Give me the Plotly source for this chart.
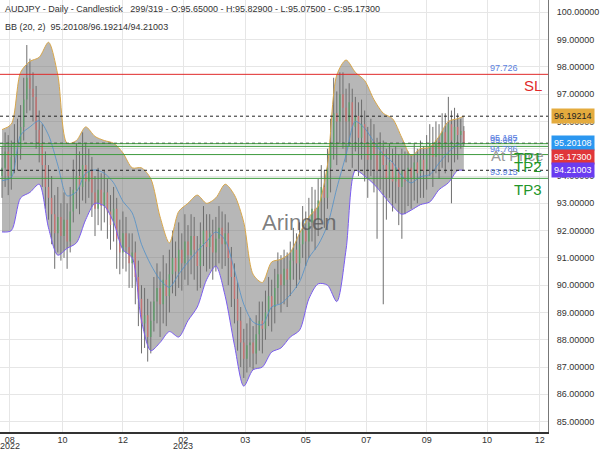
import plotly.graph_objects as go

TITLE_1 = "AUDJPY - Daily - Candlestick\u00a0\u00a0\u00a0299/319 - O:95.65000 - H:95.82900 - L:95.07500 - C:95.17300"
TITLE_2 = "BB (20, 2)\u00a0\u00a095.20108/96.19214/94.21003"
WATERMARK = "Arincen"

# bar numbers (one candle per two trading days)
BARS = list(range(0, 300, 2))

OPEN = [
    94.0, 94.3, 94.9, 94.0, 94.7, 95.2, 95.0, 95.8, 96.8, 97.6,
    97.2, 96.9, 95.7, 95.2, 94.4, 93.6, 93.2, 92.6, 91.9, 92.5,
    91.8, 92.4, 91.6, 92.7, 93.5, 94.0, 93.6, 94.4, 93.8, 94.2,
    93.4, 92.8, 93.5, 92.9, 93.4, 92.7, 92.2, 92.8, 91.7, 91.2,
    91.9, 91.4, 90.8, 91.2, 90.3, 89.5, 88.6, 88.9, 88.1, 88.7,
    89.4, 89.9, 89.3, 90.2, 89.6, 90.4, 91.0, 90.5, 91.3, 90.8,
    91.6, 91.1, 91.8, 91.3, 90.7, 91.5, 92.0, 91.4, 91.9, 91.2,
    91.7, 92.1, 91.5, 91.9, 91.0, 90.3, 89.5, 88.7, 87.9, 87.3,
    87.8, 87.9, 87.5, 88.2, 88.7, 88.4, 89.0, 89.6, 89.2, 89.9,
    90.4, 90.0, 90.6, 90.2, 90.9, 91.3, 90.8, 91.5, 92.0, 91.6,
    92.3, 92.8, 92.4, 93.1, 93.6, 93.2, 94.3, 95.2, 96.3, 96.0,
    97.0, 96.5, 96.0, 96.7, 95.8, 96.2, 95.4, 95.9, 95.2, 94.6,
    95.3, 94.8, 94.2, 94.9, 94.4, 93.9, 94.5, 93.8, 94.3, 93.6,
    94.2, 93.8, 94.3, 93.9, 94.5, 94.1, 94.6, 94.2, 94.8, 95.2,
    94.7, 95.3, 95.0, 95.6, 95.2, 95.9, 95.3, 95.8, 95.5, 95.65,
]
HIGH = [
    95.1, 95.6, 95.5, 95.3, 95.9, 96.1, 96.6, 97.6, 98.8, 98.3,
    97.8, 97.3, 96.4, 95.9, 94.9, 94.4, 94.0, 93.3, 93.6, 93.0,
    93.4, 93.0, 93.6, 94.6, 95.2, 94.9, 95.6, 95.2, 95.0, 94.7,
    94.0, 94.3, 94.1, 94.2, 93.9, 93.3, 93.6, 93.2, 92.4, 92.7,
    92.5, 91.9, 91.9, 91.6, 90.9, 90.0, 89.9, 89.5, 89.4, 90.3,
    90.8, 90.5, 91.1, 90.8, 91.3, 92.0, 91.6, 92.3, 91.9, 92.6,
    92.2, 92.6, 92.5, 91.8, 92.3, 92.9, 92.6, 92.6, 92.4, 92.5,
    92.9, 92.7, 92.6, 92.3, 91.4, 90.8, 90.1, 89.2, 88.4, 88.6,
    88.8, 88.5, 88.9, 89.4, 89.4, 89.8, 90.3, 90.2, 90.6, 91.2,
    91.1, 91.3, 91.2, 91.6, 92.1, 91.9, 92.3, 92.9, 92.7, 93.2,
    93.6, 93.5, 93.9, 94.4, 94.2, 95.0, 96.1, 97.6, 97.1, 97.8,
    97.8, 97.2, 97.4, 97.2, 96.9, 96.7, 96.8, 96.4, 95.8, 96.1,
    95.9, 95.4, 95.6, 95.3, 95.0, 95.2, 95.0, 95.1, 94.8, 95.0,
    94.9, 94.9, 94.8, 95.2, 95.0, 95.3, 95.1, 95.5, 95.9, 95.8,
    96.0, 95.9, 96.3, 96.3, 96.9, 96.4, 96.5, 96.3, 96.1, 95.829,
]
LOW = [
    93.2, 93.6, 93.3, 93.5, 94.1, 94.2, 94.6, 95.3, 96.3, 96.4,
    96.0, 95.0, 94.5, 93.6, 92.8, 92.4, 91.5, 90.6, 91.2, 90.9,
    91.0, 90.6, 91.2, 92.3, 92.8, 92.6, 93.1, 93.0, 93.2, 92.5,
    91.8, 92.2, 92.0, 92.3, 91.7, 91.3, 91.6, 90.6, 90.4, 90.6,
    90.5, 89.9, 89.9, 89.3, 88.5, 87.5, 87.7, 87.2, 87.5, 88.3,
    88.6, 88.1, 88.6, 88.5, 89.0, 89.7, 89.6, 89.9, 89.8, 90.2,
    90.0, 90.4, 90.2, 89.8, 89.9, 90.7, 90.5, 90.6, 90.2, 90.5,
    90.8, 90.6, 90.7, 90.0, 89.2, 88.6, 87.6, 87.0, 86.6, 86.8,
    87.0, 86.9, 87.1, 87.6, 87.5, 88.0, 88.5, 88.3, 88.6, 89.3,
    89.0, 89.3, 89.2, 89.6, 90.2, 89.9, 90.2, 91.0, 90.7, 91.0,
    91.6, 91.3, 91.8, 92.4, 92.1, 92.8, 93.4, 94.6, 94.4, 95.2,
    95.0, 94.5, 95.1, 94.3, 94.9, 94.0, 94.6, 93.8, 93.2, 94.0,
    93.4, 91.7, 93.5, 89.3, 92.4, 93.2, 92.7, 93.0, 92.2, 91.7,
    92.6, 92.9, 92.8, 93.1, 93.0, 93.2, 93.2, 93.5, 94.0, 93.6,
    94.1, 93.9, 94.3, 94.1, 94.5, 93.0, 94.5, 94.6, 95.0, 95.075,
]
CLOSE = [
    94.3, 94.9, 94.0, 94.7, 95.2, 95.0, 95.8, 96.8, 97.6, 97.2,
    96.9, 95.7, 95.2, 94.4, 93.6, 93.2, 92.6, 91.9, 92.5, 91.8,
    92.4, 91.6, 92.7, 93.5, 94.0, 93.6, 94.4, 93.8, 94.2, 93.4,
    92.8, 93.5, 92.9, 93.4, 92.7, 92.2, 92.8, 91.7, 91.2, 91.9,
    91.4, 90.8, 91.2, 90.3, 89.5, 88.6, 88.9, 88.1, 88.7, 89.4,
    89.9, 89.3, 90.2, 89.6, 90.4, 91.0, 90.5, 91.3, 90.8, 91.6,
    91.1, 91.8, 91.3, 90.7, 91.5, 92.0, 91.4, 91.9, 91.2, 91.7,
    92.1, 91.5, 91.9, 91.0, 90.3, 89.5, 88.7, 87.9, 87.3, 87.8,
    87.9, 87.5, 88.2, 88.7, 88.4, 89.0, 89.6, 89.2, 89.9, 90.4,
    90.0, 90.6, 90.2, 90.9, 91.3, 90.8, 91.5, 92.0, 91.6, 92.3,
    92.8, 92.4, 93.1, 93.6, 93.2, 94.3, 95.2, 96.3, 96.0, 97.0,
    96.5, 96.0, 96.7, 95.8, 96.2, 95.4, 95.9, 95.2, 94.6, 95.3,
    94.8, 94.2, 94.9, 94.4, 93.9, 94.5, 93.8, 94.3, 93.6, 94.2,
    93.8, 94.3, 93.9, 94.5, 94.1, 94.6, 94.2, 94.8, 95.2, 94.7,
    95.3, 95.0, 95.6, 95.2, 95.9, 95.3, 95.8, 95.5, 95.65, 95.173,
]

# Bollinger band values read at every 6th bar
BAND_BARS = list(range(0, 295, 6)) + [298]
BB_UPPER = [
    95.7, 95.9, 97.8, 98.2, 98.35, 98.9, 97.7, 95.2, 95.3, 95.8,
    95.45, 95.3, 95.2, 94.85, 94.3, 94.3, 93.9, 92.5, 91.55, 92.7,
    93.0, 93.3, 93.0, 93.2, 93.7, 93.3, 92.3, 90.4, 90.1, 90.85,
    90.95, 91.2, 91.9, 92.5, 92.9, 94.4, 97.7, 98.25, 97.8, 97.5,
    96.8, 96.3, 96.1, 95.4, 94.75, 95.0, 95.05, 95.45, 96.0, 96.1,
    96.19214,
]
BB_LOWER = [
    91.95, 92.0, 93.2, 93.4, 93.7, 92.1, 91.1, 91.35, 91.55, 92.4,
    93.0, 92.9, 92.3, 91.3, 91.0, 88.7, 87.6, 87.9, 88.3, 88.1,
    88.7, 89.2, 90.2, 90.7, 89.6, 87.8, 86.3, 86.9, 87.0, 87.55,
    87.7, 88.1, 88.35, 89.5, 90.05, 90.0, 89.4, 91.3, 94.2, 94.0,
    93.7, 93.3, 92.9, 92.6, 92.75, 92.95, 93.05, 93.5, 93.75, 94.2,
    94.21003,
]
BB_MID = [(u + l) / 2 for u, l in zip(BB_UPPER, BB_LOWER)]

TICK_BARS = [5, 39, 78, 117, 157, 196, 235, 274, 313, 347]
TICK_TEXT = ["08", "10", "12", "02", "03", "05", "07", "09", "10", "12"]
YEAR_BARS = [5, 117]
YEAR_TEXT = ["2022", "2023"]

# levels
SL_LEVEL = 97.726
AT_PRICE_LEVEL = 95.185
TP_LEVELS = [95.087, 94.786, 93.915]
TP_NAMES = ["TP1", "TP2", "TP3"]
BB_LEVELS = [96.19214, 95.20108, 94.21003]
LAST_CLOSE = 95.173

FONT = "Liberation Sans, Arial, sans-serif"

fig = go.Figure()

# band fill
fig.add_trace(go.Scatter(x=BAND_BARS, y=BB_UPPER, mode="lines",
                         line=dict(width=0, shape="spline", smoothing=0.8),
                         hoverinfo="skip"))
fig.add_trace(go.Scatter(x=BAND_BARS, y=BB_LOWER, mode="lines",
                         line=dict(width=0, shape="spline", smoothing=0.8),
                         fill="tonexty", fillcolor="rgba(105,105,105,0.48)",
                         hoverinfo="skip"))

# candles: wicks and bodies
wx, wy = [], []
for b, h, l in zip(BARS, HIGH, LOW):
    wx += [b, b, None]
    wy += [l, h, None]
fig.add_trace(go.Scatter(x=wx, y=wy, mode="lines",
                         line=dict(color="#6e6e6e", width=1), hoverinfo="skip"))
ux, uy, dx, dy = [], [], [], []
for b, o, c in zip(BARS, OPEN, CLOSE):
    if c >= o:
        ux += [b, b, None]
        uy += [o, c, None]
    else:
        dx += [b, b, None]
        dy += [o, c, None]
fig.add_trace(go.Scatter(x=ux, y=uy, mode="lines",
                         line=dict(color="#5e9e6a", width=1.4), hoverinfo="skip"))
fig.add_trace(go.Scatter(x=dx, y=dy, mode="lines",
                         line=dict(color="#c77272", width=1.4), hoverinfo="skip"))

# band lines
fig.add_trace(go.Scatter(x=BAND_BARS, y=BB_UPPER, mode="lines",
                         line=dict(color="#d9a74a", width=1, shape="spline", smoothing=0.8)))
fig.add_trace(go.Scatter(x=BAND_BARS, y=BB_LOWER, mode="lines",
                         line=dict(color="#7a5cf0", width=1, shape="spline", smoothing=0.8)))
fig.add_trace(go.Scatter(x=BAND_BARS, y=BB_MID, mode="lines",
                         line=dict(color="#4f8fc9", width=0.8, shape="spline", smoothing=0.8)))

shapes = []
def hline(y, color, dash="solid", width=1):
    shapes.append(dict(type="line", xref="paper", x0=0, x1=1, yref="y", y0=y, y1=y,
                       line=dict(color=color, width=width, dash=dash), layer="above"))

hline(SL_LEVEL, "#e02a2a")
for lv in BB_LEVELS:
    hline(lv, "#222222", dash="3px,3px")
hline(AT_PRICE_LEVEL, "#3d9a3d")
for lv in TP_LEVELS:
    hline(lv, "#3d9a3d")

ann = []
ann.append(dict(xref="paper", yref="paper", x=0.005, y=0.979, xanchor="left", yanchor="middle",
                text=TITLE_1, showarrow=False, font=dict(size=9, color="#333", family=FONT)))
ann.append(dict(xref="paper", yref="paper", x=0.005, y=0.9375, xanchor="left", yanchor="middle",
                text=TITLE_2, showarrow=False, font=dict(size=9, color="#333", family=FONT)))
ann.append(dict(xref="paper", yref="paper", x=0.547, y=0.484, xanchor="center", yanchor="middle",
                text=WATERMARK, showarrow=False,
                font=dict(size=22, color="rgba(85,85,85,0.75)", family=FONT)))

# level value labels (blue)
for lv in [SL_LEVEL, AT_PRICE_LEVEL] + TP_LEVELS:
    ann.append(dict(xref="paper", yref="y", x=0.92, y=lv, xanchor="center", yanchor="bottom",
                    text=f"{lv:.3f}", showarrow=False, yshift=-1,
                    font=dict(size=9, color="#5b7fe0", family=FONT)))
# names
ann.append(dict(xref="paper", yref="y", x=0.992, y=SL_LEVEL, xanchor="right", yanchor="top",
                text="SL", showarrow=False, yshift=-1,
                font=dict(size=15, color="#e02a2a", family=FONT)))
ann.append(dict(xref="paper", yref="y", x=0.997, y=AT_PRICE_LEVEL, xanchor="right", yanchor="top",
                text="At Price", showarrow=False, yshift=-1,
                font=dict(size=15, color="#9a9a9a", family=FONT)))
for lv, nm in zip(TP_LEVELS, TP_NAMES):
    ann.append(dict(xref="paper", yref="y", x=0.992, y=lv, xanchor="right", yanchor="top",
                    text=nm, showarrow=False, yshift=-1,
                    font=dict(size=15, color="#22962a", family=FONT)))

# axis value boxes
boxes = [(BB_LEVELS[0], "#e4ab3e", "#222", 0),
         (BB_LEVELS[1], "#2b97f0", "white", 0),
         (LAST_CLOSE, "#e0363a", "white", -13),
         (BB_LEVELS[2], "#6a3cf0", "white", 0)]
for lv, bg, fc, ys in boxes:
    ann.append(dict(xref="paper", yref="y", x=1, y=lv, xanchor="left", yanchor="middle",
                    text=f"{lv:.5f}", showarrow=False, xshift=3, yshift=ys,
                    bgcolor=bg, borderpad=2,
                    font=dict(size=9, color=fc, family=FONT)))

# years under month ticks
for b, t in zip(YEAR_BARS, YEAR_TEXT):
    ann.append(dict(xref="x", yref="paper", x=b, y=0, xanchor="center", yanchor="top",
                    text=t, showarrow=False, yshift=-7,
                    font=dict(size=9, color="#333", family=FONT)))

fig.update_layout(
    width=600, height=450,
    margin=dict(l=0, r=52, t=0, b=18),
    paper_bgcolor="white", plot_bgcolor="white",
    showlegend=False,
    font=dict(family=FONT, size=9, color="#333"),
    shapes=shapes, annotations=ann,
    xaxis=dict(range=[-1.3, 352.3], tickmode="array", tickvals=TICK_BARS, ticktext=TICK_TEXT,
               showgrid=True, gridcolor="#e6e6e6", zeroline=False,
               showline=True, linecolor="#333", linewidth=1.5, ticks="",
               tickfont=dict(size=9, color="#333"), ticklabelstandoff=-2),
    yaxis=dict(side="right", range=[84.62, 100.45], tick0=85, dtick=1, tickformat=".5f",
               showgrid=True, gridcolor="#e6e6e6", zeroline=False,
               showline=True, linecolor="#777", linewidth=1, ticks="",
               tickfont=dict(size=9, color="#333"), ticklabelstandoff=6),
)

fig.write_html("out.html")
